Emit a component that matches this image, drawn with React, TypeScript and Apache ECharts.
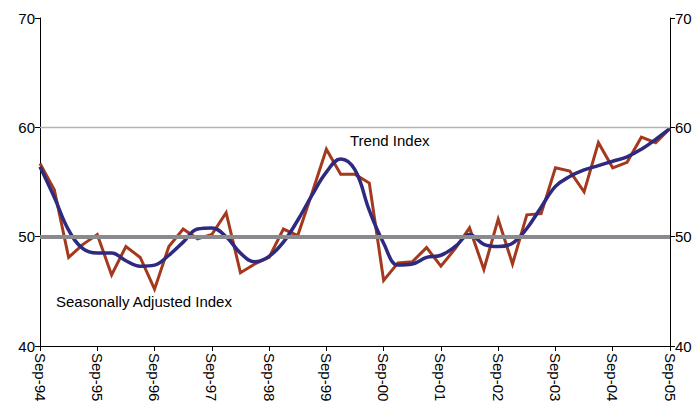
import React, { useEffect, useRef } from "react";
import * as echarts from "echarts";

const months = ["Sep", "Dec", "Mar", "Jun"];
const categories: string[] = [];
for (let i = 0; i < 45; i++) {
  // Sep/Dec belong to year y, Mar/Jun to y+1
  const base = 94 + Math.floor(i / 4);
  const y = i % 4 >= 2 ? base + 1 : base;
  categories.push(`${months[i % 4]}-${String(y % 100).padStart(2, "0")}`);
}

const seasonallyAdjusted = [
  56.7, 54.3, 48.1, 49.3, 50.2, 46.5, 49.1, 48.1, 45.2, 49.1, 50.7, 49.8,
  50.2, 52.2, 46.7, 47.5, 48.1, 50.7, 50.1, 54.0, 58.0, 55.7, 55.7, 54.9,
  46.0, 47.6, 47.7, 49.0, 47.3, 48.9, 50.8, 47.0, 51.6, 47.5, 52.0, 52.1,
  56.3, 56.0, 54.1, 58.6, 56.3, 56.8, 59.1, 58.6, 59.9,
];

const trend = [
  56.4, 53.6, 50.6, 48.9, 48.5, 48.5, 47.8, 47.3, 47.4, 48.3, 49.5, 50.7,
  50.8, 50.0, 48.5, 47.7, 48.2, 49.5, 51.5, 53.8, 55.9, 57.1, 56.1, 52.4,
  49.4, 47.4, 47.5, 48.1, 48.3, 49.1, 50.2, 49.3, 49.1, 49.4, 50.75, 52.7,
  54.6, 55.5, 56.1, 56.5, 56.9, 57.3, 58.0, 58.9, 59.9,
];

const yTicks = [40, 50, 60, 70];

export default function App() {
  const ref = useRef<HTMLDivElement>(null);
  useEffect(() => {
    if (!ref.current) return;
    const chart = echarts.init(ref.current, null, { renderer: "svg" });
    const font = "'Liberation Sans', Arial, sans-serif";
    const yAxisCommon = {
      type: "value" as const,
      min: yTicks[0],
      max: yTicks[yTicks.length - 1],
      interval: 10,
      axisLine: { show: true, lineStyle: { color: "#000", width: 1 } },
      axisTick: { show: true, length: 5, lineStyle: { color: "#000" } },
      axisLabel: { color: "#000", fontSize: 15, fontFamily: font, margin: 5 },
      splitLine: { show: false },
    };
    chart.setOption({
      animation: false,
      grid: { left: 40, right: 30, top: 18, bottom: 61, containLabel: false },
      xAxis: {
        type: "category",
        data: categories,
        boundaryGap: false,
        axisLine: { show: true, lineStyle: { color: "#000", width: 1 } },
        axisTick: { show: true, interval: 3, length: 5, lineStyle: { color: "#000" } },
        axisLabel: {
          interval: 3,
          rotate: -90,
          color: "#000",
          fontSize: 15,
          fontFamily: font,
          margin: 7,
        },
        splitLine: { show: false },
      },
      yAxis: [
        { ...yAxisCommon, position: "left" },
        { ...yAxisCommon, position: "right" },
      ],
      series: [
        {
          type: "line",
          data: [],
          z: 1,
          silent: true,
          markLine: {
            symbol: "none",
            silent: true,
            label: { show: false },
            data: [
              { yAxis: 60, lineStyle: { color: "#b3b3b3", width: 1.3, type: "solid" } },
              { yAxis: 50, lineStyle: { color: "#8a8a8e", width: 4, type: "solid" } },
            ],
          },
        },
        {
          name: "Seasonally Adjusted Index",
          type: "line",
          data: seasonallyAdjusted,
          z: 3,
          symbol: "none",
          lineStyle: { color: "#A33A1E", width: 3, join: "miter" },
          itemStyle: { color: "#A33A1E" },
        },
        {
          name: "Trend Index",
          type: "line",
          data: trend,
          z: 4,
          smooth: 0.4,
          symbol: "none",
          lineStyle: { color: "#2E2A80", width: 3.5 },
          itemStyle: { color: "#2E2A80" },
        },
      ],
      graphic: [
        {
          type: "text",
          left: 350,
          top: 133,
          style: { text: "Trend Index", fontSize: 15, fontFamily: font, fill: "#000" },
        },
        {
          type: "text",
          left: 56,
          top: 294,
          style: { text: "Seasonally Adjusted Index", fontSize: 15, fontFamily: font, fill: "#000" },
        },
      ],
    });
    return () => chart.dispose();
  }, []);
  return <div ref={ref} style={{ width: 700, height: 407, position: "absolute", left: 0, top: 0 }} />;
}
